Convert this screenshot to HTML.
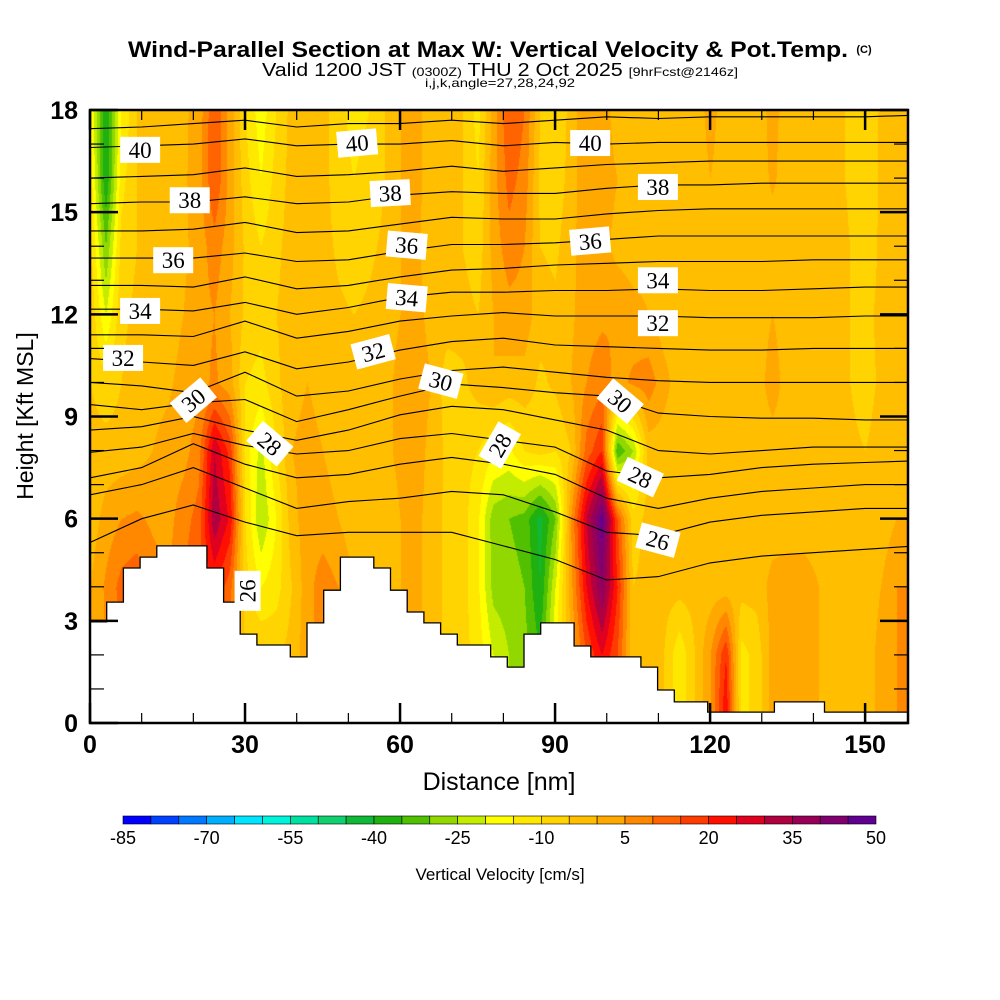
<!DOCTYPE html>
<html><head><meta charset="utf-8"><style>
html,body{margin:0;padding:0;background:#fff;width:1000px;height:1000px;overflow:hidden}
#wrap{position:relative;width:1000px;height:1000px}
#heat{position:absolute;left:90px;top:110px}
#ov{position:absolute;left:0;top:0}
text{font-family:"Liberation Sans",sans-serif}
</style></head><body>
<div id="wrap">
<canvas id="heat" width="818" height="613"></canvas>
<svg id="ov" width="1000" height="1000">
<g>
<text x="488" y="57" text-anchor="middle" font-size="22" font-weight="bold" textLength="720" lengthAdjust="spacingAndGlyphs">Wind-Parallel Section at Max W: Vertical Velocity &amp; Pot.Temp.</text>
<text x="864" y="53" text-anchor="middle" font-size="11" font-weight="bold">(C)</text>
<text x="500" y="76" text-anchor="middle" font-size="18" textLength="476" lengthAdjust="spacingAndGlyphs">Valid 1200 JST <tspan font-size="12">(0300Z)</tspan> THU 2 Oct 2025 <tspan font-size="12">[9hrFcst@2146z]</tspan></text>
<text x="500" y="87" text-anchor="middle" font-size="12" textLength="150" lengthAdjust="spacingAndGlyphs">i,j,k,angle=27,28,24,92</text>
</g>
<defs><clipPath id="pc"><rect x="90" y="110" width="818" height="613"/></clipPath></defs>
<g id="contours" clip-path="url(#pc)"></g>
<g id="terrain" clip-path="url(#pc)"></g>
<g id="clabels"></g>
<rect x="90" y="110" width="818" height="613" fill="none" stroke="#000" stroke-width="2.5"/>
<g id="axes"></g>
<text x="33" y="416" text-anchor="middle" font-size="23" transform="rotate(-90 33 416)">Height [Kft MSL]</text>
<text x="499" y="790" text-anchor="middle" font-size="25">Distance [nm]</text>
<g id="cbar"></g>
<text x="500" y="880" text-anchor="middle" font-size="17">Vertical Velocity [cm/s]</text>
</svg>
</div>
<script>
// ---- data ----
const colorLevels = [-85,-80,-75,-70,-65,-60,-55,-50,-45,-40,-35,-30,-25,-20,-15,-10,-5,0,5,10,15,20,25,30,35,40,45,50];
const colorbarTicks = [-85,-70,-55,-40,-25,-10,5,20,35,50];
const levelColors = ["#0000ff","#0040ff","#0078ff","#00b0ff","#00e4ff","#00f4dc","#00e0a0","#10d070","#10b838","#20b010","#50c000","#90d800","#c4ec00","#ffff00","#ffe800","#ffd400","#ffbe00","#ffa800","#ff8800","#ff6400","#ff3c00","#ff1000","#e00020","#b00040","#980058","#800070","#600090"];
const gridX = [0,3,6,9,12,15,18,21,24,27,30,33,36,39,42,45,48,51,54,57,60,63,66,69,72,75,78,81,84,87,90,93,96,99,102,105,108,111,114,117,120,123,126,129,132,135,138,141,144,147,150,153,156,159];
const gridH = [18,16,14,12,10,8,6,4,2,0];
const wRow18 = [-15,-40,-15,-5,-3,-3,-1,2,15,3,-10,-18,-10,-3,-1,-3,-8,-12,-10,-5,0,2,-3,-2,-5,-12,2,15,10,-5,-10,-3,5,3,-3,-2,0,-3,-3,-3,2,-3,-3,-3,2,-3,-3,-3,-3,-6,-9,-4,-3,-3];
const wRow16 = [-12,-40,-12,-5,-3,-3,-1,3,15,3,-8,-15,-8,-3,-1,-3,-8,-10,-8,-5,0,2,-3,-2,-5,-10,3,12,8,-6,-8,-3,5,3,0,-2,-1,-3,-3,-3,0,-3,-3,-3,1,-3,-3,-3,-3,-6,-9,-4,-3,-3];
const wRow14 = [-8,-30,-8,-5,-3,-3,-1,2,8,2,-6,-10,-6,-3,-1,-3,-6,-8,-6,-4,0,1,-3,-2,-5,-8,2,8,5,-5,-6,-2,4,2,-2,-3,-2,-3,-3,-3,-3,-3,-3,-3,-3,-3,-3,-3,-2,-5,-8,-4,-3,-3];
const wRow12 = [-6,-20,-6,-4,-3,-3,0,3,5,0,-6,-8,-5,-3,-1,-3,-4,-5,-4,-3,0,2,-2,-2,-3,-5,0,3,3,-3,-4,-1,3,4,5,2,0,-3,-3,-3,-3,-3,-3,-3,0,-3,-3,-3,-3,-5,-6,-4,-3,-3];
const wRow10 = [-5,-8,-5,-3,-2,-1,2,3,6,2,-10,-12,-6,-2,0,-2,-3,-4,-3,-2,2,3,0,-8,-6,-3,0,-2,-2,-6,-4,0,5,8,3,6,8,2,-3,-3,-3,-3,-3,-3,3,-3,-3,-3,-3,-5,-7,-4,-3,-3];
const wRow8 = [-3,-3,-3,-2,0,2,3,8,30,18,-12,-22,-10,0,2,0,-2,-4,-3,-2,2,3,-2,-6,-8,-10,-14,-16,-10,-8,-10,-5,12,20,-35,-25,-3,-3,-3,-3,-3,-3,-3,-3,-3,-3,-3,-3,-3,-4,-5,-3,-3,-3];
const wRow6 = [-3,2,5,6,4,3,8,12,34,24,-10,-25,-15,-2,3,2,0,-3,-5,-5,0,2,-3,-6,-8,-14,-28,-30,-32,-42,-30,5,30,48,15,-8,-3,-3,-3,-3,-3,-3,-3,-3,-3,-3,-3,-3,-3,-3,-3,-3,0,0];
const wRow4 = [0,6,12,14,8,5,10,15,20,12,-8,-15,-12,-5,3,8,5,0,-3,-5,0,2,-3,-6,-8,-14,-27,-28,-30,-40,-20,3,25,40,20,-5,-3,-3,-3,-3,-3,-3,-3,-3,2,3,3,0,-3,-3,-3,0,5,5];
const wRow2 = [0,5,10,10,8,5,8,10,12,8,-5,-5,-6,-3,3,8,5,0,-3,-5,0,2,-3,-6,-8,-12,-20,-25,-28,-35,-15,0,15,25,15,-3,-3,-5,-14,-5,5,20,-12,-8,2,3,3,0,-3,-3,-3,2,5,5];
const wRow0 = [0,5,10,10,8,5,8,10,12,8,-5,-5,-6,-3,3,8,5,0,-3,-5,0,2,-3,-6,-8,-12,-20,-25,-28,-35,-15,0,15,25,15,-3,-3,-5,-14,-5,5,25,-12,-8,2,3,3,0,-3,-3,-3,2,5,5];
const terrainHeights = [2.97,3.55,4.55,4.87,5.2,5.2,5.2,4.55,3.55,2.61,2.29,2.29,1.94,2.94,3.9,4.87,4.87,4.55,3.9,3.26,2.94,2.61,2.29,2.29,1.94,1.64,2.61,2.94,2.94,2.26,1.94,1.94,1.94,1.64,0.97,0.62,0.62,0.32,0.32,0.32,0.32,0.62,0.62,0.62,0.32,0.32,0.32,0.32,0.32];
const thetaX = [0,10,20,30,40,50,60,70,80,90,100,110,120,130,140,150,160];
const thetaLevels = [41,40,39,38,37,36,35,34,33,32,31,30,29,28,27,26,25];
const th41 = [17.45,17.5,17.6,17.7,17.5,17.6,17.6,17.7,17.6,17.7,17.8,17.75,17.8,17.8,17.8,17.8,17.85];
const th40 = [16.9,16.95,17.0,17.15,16.95,17.0,17.0,17.1,16.95,17.05,17.0,17.05,17.05,17.05,17.05,17.05,17.05];
const th39 = [16.0,16.05,16.1,16.3,16.05,16.1,16.2,16.35,16.2,16.3,16.4,16.45,16.5,16.5,16.5,16.5,16.5];
const th38 = [15.25,15.3,15.3,15.45,15.25,15.3,15.5,15.6,15.55,15.55,15.7,15.8,15.8,15.85,15.85,15.85,15.85];
const th37 = [14.45,14.45,14.5,14.7,14.4,14.45,14.65,14.85,14.8,14.8,14.95,15.05,15.1,15.1,15.1,15.1,15.1];
const th36 = [13.65,13.65,13.65,13.8,13.55,13.6,13.85,14.05,14.05,14.1,14.2,14.3,14.3,14.3,14.3,14.3,14.3];
const th35 = [12.85,12.85,12.8,13.1,12.75,12.85,13.1,13.3,13.35,13.45,13.5,13.55,13.55,13.55,13.6,13.6,13.6];
const th34 = [12.15,12.15,12.1,12.35,12.0,12.2,12.5,12.65,12.65,12.7,12.7,12.75,12.7,12.7,12.75,12.8,12.8];
const th33 = [11.4,11.4,11.35,11.8,11.3,11.5,11.8,11.95,12.05,11.95,11.95,11.95,11.9,11.9,11.9,11.95,11.95];
const th32 = [10.7,10.6,10.5,10.9,10.4,10.6,10.95,11.2,11.3,11.1,11.05,11.0,10.95,10.95,11.0,11.0,11.0];
const th31 = [10.0,9.9,9.7,10.3,9.6,9.75,10.1,10.35,10.45,10.3,10.15,10.05,10.0,10.0,10.0,10.0,10.0];
const th30 = [9.35,9.2,9.4,9.5,8.85,9.2,9.6,9.95,9.85,9.7,9.6,9.1,9.0,8.95,8.95,8.9,8.9];
const th29 = [8.6,8.7,9.0,8.6,8.3,8.6,9.05,9.3,9.2,8.9,8.6,8.0,7.9,8.0,8.1,8.1,8.1];
const th28 = [7.95,8.1,8.5,8.15,7.9,8.0,8.35,8.5,8.3,8.1,7.4,7.2,7.3,7.5,7.6,7.65,7.7];
const th27 = [7.2,7.5,8.2,7.6,7.2,7.3,7.6,7.8,7.6,7.3,6.6,6.3,6.6,6.8,6.9,7.0,7.0];
const th26 = [6.7,7.0,7.5,6.9,6.3,6.5,6.6,6.8,6.7,6.2,5.6,5.5,5.9,6.1,6.2,6.3,6.3];
const th25 = [5.3,6.0,6.4,5.9,5.5,5.6,5.6,5.6,5.2,4.8,4.2,4.3,4.7,4.9,5.0,5.1,5.2];
const labelValues = ["40","40","40","38","38","38","36","36","36","34","34","34","32","32","32","30","30","30","28","28","28","26","26"];
const labelX = [9.7,51.7,96.8,19.3,58.1,109.9,16.1,61.3,96.8,9.7,61.3,109.9,6.4,54.8,109.9,20,67.9,102.6,34.8,79.3,106.5,30.5,109.9];
const labelH = [16.83,17.03,17.03,15.35,15.56,15.74,13.59,14.03,14.15,12.1,12.49,13.0,10.72,10.9,11.74,9.48,10.04,9.45,8.2,8.16,7.22,3.88,5.37];
const labelRot = [0,-5,0,0,-3,0,0,5,-5,0,5,0,0,-15,0,-40,15,40,40,-60,25,-90,15];

// ---- scales ----
const X0=90,Y0=723,PW=818,PH=613,XMAX=158.3;
const sx = x => X0 + x*PW/XMAX;
const sy = h => Y0 - h*PH/18;
const NS="http://www.w3.org/2000/svg";
function mk(tag, attrs){const e=document.createElementNS(NS,tag);for(const k in attrs)e.setAttribute(k,attrs[k]);return e;}

// ---- heatmap ----
const rows=[wRow18,wRow16,wRow14,wRow12,wRow10,wRow8,wRow6,wRow4,wRow2,wRow0];
function val(r,c){const v=rows[r][c];return v===undefined?-3:v;}
function sample(x,h){
  let ci=0; while(ci<gridX.length-2 && x>gridX[ci+1]) ci++;
  let tx=(x-gridX[ci])/(gridX[ci+1]-gridX[ci]); tx=Math.max(0,Math.min(1,tx));
  let ri=0; while(ri<gridH.length-2 && h<gridH[ri+1]) ri++;
  let ty=(gridH[ri]-h)/(gridH[ri]-gridH[ri+1]); ty=Math.max(0,Math.min(1,ty));
  const a=val(ri,ci)*(1-tx)+val(ri,ci+1)*tx, b=val(ri+1,ci)*(1-tx)+val(ri+1,ci+1)*tx;
  return a*(1-ty)+b*ty;
}
const rgb=levelColors.map(c=>[parseInt(c.substr(1,2),16),parseInt(c.substr(3,2),16),parseInt(c.substr(5,2),16)]);
const cv=document.getElementById('heat'),ctx=cv.getContext('2d'),img=ctx.createImageData(PW,PH);
for(let py=0;py<PH;py++){const h=(PH-py)*18/PH;
  for(let px=0;px<PW;px++){const x=px*XMAX/PW;const v=sample(x,h);
    let k=0;while(k<levelColors.length-1 && v>=colorLevels[k+1])k++;
    const c=rgb[k],i=(py*PW+px)*4;img.data[i]=c[0];img.data[i+1]=c[1];img.data[i+2]=c[2];img.data[i+3]=255;}}
ctx.putImageData(img,0,0);

// ---- contours ----
const thetaLines=[th41,th40,th39,th38,th37,th36,th35,th34,th33,th32,th31,th30,th29,th28,th27,th26,th25];
const cg=document.getElementById('contours');
thetaLines.forEach((arr,li)=>{
  const d=arr.map((h,i)=>(i?'L':'M')+sx(thetaX[i]).toFixed(1)+' '+sy(h).toFixed(1)).join(' ');
  const p=mk('path',{d:d,fill:'none',stroke:'#000','stroke-width':1.1});
  
  
  cg.appendChild(p);
});

// ---- terrain ----
const tg=document.getElementById('terrain');
const cw=XMAX/terrainHeights.length;
let td='M'+sx(0)+' '+sy(0);
terrainHeights.forEach((h,i)=>{td+=' L'+sx(i*cw).toFixed(1)+' '+sy(h).toFixed(1)+' L'+sx((i+1)*cw).toFixed(1)+' '+sy(h).toFixed(1);});
td+=' L'+sx(XMAX)+' '+sy(0)+' Z';
const tp=mk('path',{d:td,fill:'#fff',stroke:'#000','stroke-width':1.3});


tg.appendChild(tp);

// ---- contour labels ----
const lg=document.getElementById('clabels');
labelValues.forEach((t,i)=>{
  const cx=sx(labelX[i]),cy=sy(labelH[i]);
  const g=mk('g',{transform:'translate('+cx+' '+cy+') rotate('+labelRot[i]+')'});
  
  
  g.appendChild(mk('rect',{x:-20,y:-13,width:40,height:26,fill:'#fff'}));
  const tx=mk('text',{x:0,y:8,'text-anchor':'middle','font-size':23,style:'font-family:"Liberation Serif",serif'});
  tx.textContent=t;g.appendChild(tx);lg.appendChild(g);
});

// ---- axes ----
const ag=document.getElementById('axes');
for(let h=0;h<=18;h++){
  const y=sy(h),len=h%3===0?28:14;
  ag.appendChild(mk('line',{x1:X0,y1:y,x2:X0+len,y2:y,stroke:'#000','stroke-width':h%3===0?2.5:1.2}));
  ag.appendChild(mk('line',{x1:X0+PW,y1:y,x2:X0+PW-len,y2:y,stroke:'#000','stroke-width':h%3===0?2.5:1.2}));
  if(h%3===0){const t=mk('text',{x:78,y:y+9,'text-anchor':'end','font-size':25,'font-weight':'bold'});
    
    
    t.textContent=h;ag.appendChild(t);}
}
for(let x=0;x<=XMAX;x+=10){
  const px=sx(x),maj=x%30===0,len=maj?20:10;
  ag.appendChild(mk('line',{x1:px,y1:Y0,x2:px,y2:Y0-len,stroke:'#000','stroke-width':maj?2.5:1.2}));
  ag.appendChild(mk('line',{x1:px,y1:110,x2:px,y2:110+len,stroke:'#000','stroke-width':maj?2.5:1.2}));
  if(maj){const t=mk('text',{x:px,y:753,'text-anchor':'middle','font-size':25,'font-weight':'bold'});
    
    
    t.textContent=x;ag.appendChild(t);}
}

// ---- colorbar ----
const cb=document.getElementById('cbar');
const CB0=123,CB1=876,cbs=v=>CB0+(v-colorLevels[0])*(CB1-CB0)/(colorLevels[colorLevels.length-1]-colorLevels[0]);
levelColors.forEach((c,i)=>{
  const r=mk('rect',{x:cbs(colorLevels[i]),y:816,width:cbs(colorLevels[i+1])-cbs(colorLevels[i]),height:8,fill:c,stroke:'#000','stroke-width':0.6});
  
  
  cb.appendChild(r);
});
colorbarTicks.forEach(v=>{
  const t=mk('text',{x:cbs(v),y:844,'text-anchor':'middle','font-size':18});
  
  
  t.textContent=v;cb.appendChild(t);
});
</script>
</body></html>
